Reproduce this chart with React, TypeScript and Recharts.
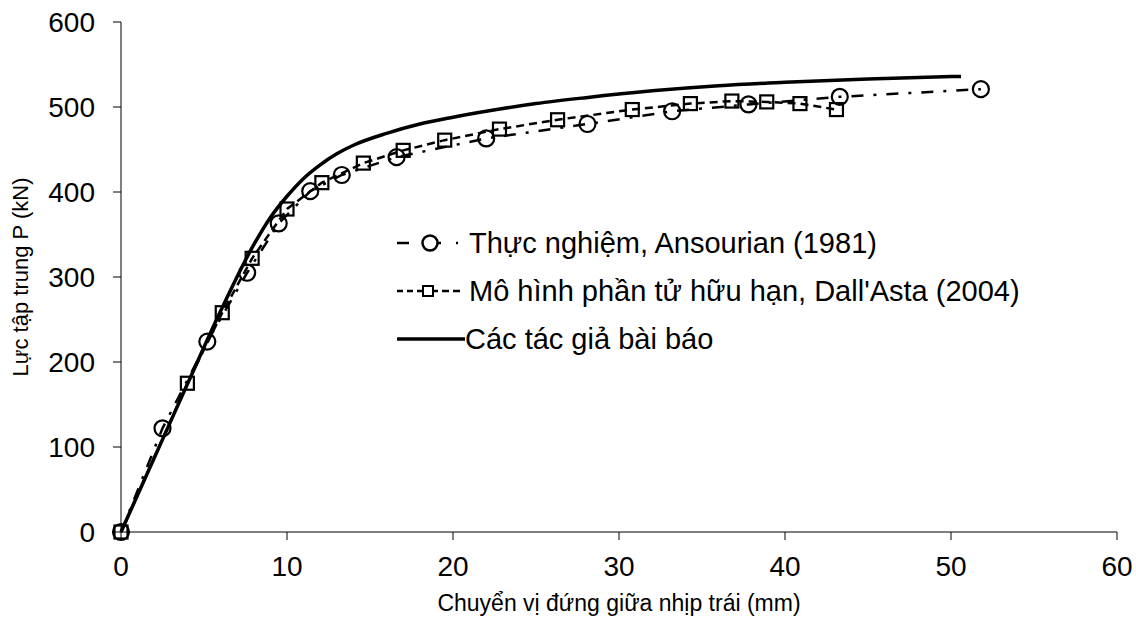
import { LineChart, Line, XAxis, YAxis, Legend } from 'recharts'

// Thực nghiệm, Ansourian (1981)
const expX = [0, 2.5, 5.2, 7.6, 9.5, 11.4, 13.3, 16.6, 22.0, 28.1, 33.2, 37.8, 43.3, 51.8]
const expY = [0, 122, 224, 305, 363, 401, 420, 441, 463, 480, 495, 503, 512, 521]

// Mô hình phần tử hữu hạn, Dall'Asta (2004)
const femX = [0, 4.0, 6.1, 7.9, 10.0, 12.1, 14.6, 17.0, 19.5, 22.8, 26.3, 30.8, 34.3, 36.8, 38.9, 40.9, 43.1]
const femY = [0, 175, 258, 322, 380, 411, 434, 449, 461, 474, 485, 497, 504, 507, 506, 504, 497]

// Các tác giả bài báo
const paperX = [0, 2, 4, 6, 8, 9, 10, 11, 12, 13, 14, 16, 18, 20, 22, 25, 28, 32, 36, 40, 45, 50.6]
const paperY = [0, 87, 174, 260, 338, 370, 395, 416, 432, 445, 455, 469, 480, 488, 495, 504, 511, 519, 525, 529, 533, 536]

const xTicks = [0, 10, 20, 30, 40, 50, 60]
const yTicks = [0, 100, 200, 300, 400, 500, 600]

const seriesNames = [
  'Thực nghiệm, Ansourian (1981)',
  "Mô hình phần tử hữu hạn, Dall'Asta (2004)",
  'Các tác giả bài báo',
]

const font = '"Liberation Sans", Arial, sans-serif'

const toPoints = (xs: number[], ys: number[]) => xs.map((x, i) => ({ x, y: ys[i] }))

const CircleDot = (props: any) => {
  const { cx, cy, index } = props
  if (cx == null || cy == null) return null
  return <circle key={`c${index}`} cx={cx} cy={cy} r={8} fill="none" stroke="#000" strokeWidth={2.2} />
}

const SquareDot = (props: any) => {
  const { cx, cy, index } = props
  if (cx == null || cy == null) return null
  return <rect key={`s${index}`} x={cx - 6.5} y={cy - 6.5} width={13} height={13} fill="none" stroke="#000" strokeWidth={2.2} />
}

const LegendBox = () => (
  <div style={{ fontFamily: font, fontSize: 29, color: '#000', lineHeight: 1 }}>
    {seriesNames.map((name, i) => (
      <div key={name} style={{ display: 'flex', alignItems: 'center', height: 48 }}>
        <svg width={70} height={24} style={{ flex: 'none' }}>
          {i === 0 && (
            <g stroke="#000" strokeWidth={2.5} fill="none">
              <line x1={2} y1={12} x2={14} y2={12} />
              <circle cx={35} cy={12} r={7.5} />
              <line x1={42} y1={12} x2={46} y2={12} />
              <line x1={61} y1={12} x2={63} y2={12} />
            </g>
          )}
          {i === 1 && (
            <g stroke="#000" strokeWidth={2.5} fill="none">
              <line x1={2} y1={12} x2={8} y2={12} />
              <line x1={12} y1={12} x2={18} y2={12} />
              <line x1={22} y1={12} x2={28} y2={12} />
              <rect x={28} y={7} width={10} height={10} strokeWidth={2} />
              <line x1={38} y1={12} x2={43} y2={12} />
              <line x1={47} y1={12} x2={54} y2={12} />
              <line x1={58} y1={12} x2={65} y2={12} />
            </g>
          )}
          {i === 2 && <line x1={2} y1={12} x2={70} y2={12} stroke="#000" strokeWidth={3.5} />}
        </svg>
        <span style={{ whiteSpace: 'nowrap', marginLeft: i === 2 ? 0 : 4 }}>{name}</span>
      </div>
    ))}
  </div>
)

export default function App() {
  const tickStyle = { fontSize: 28, fill: '#000', fontFamily: font }
  return (
    <div style={{ position: 'absolute', left: 0, top: 0, background: '#fff' }}>
      <style>{'body{margin:0;background:#fff}'}</style>
      <LineChart width={1136} height={617} margin={{ top: 22, right: 19, bottom: 0, left: 0 }}>
        <XAxis
          type="number"
          dataKey="x"
          domain={[0, 60]}
          ticks={xTicks}
          allowDuplicatedCategory={false}
          height={85}
          tick={tickStyle}
          tickSize={8}
          tickMargin={16}
          stroke="#000"
          strokeWidth={1}
          label={{
            value: 'Chuyển vị đứng giữa nhịp trái (mm)',
            position: 'insideBottom',
            offset: 6,
            style: { fontSize: 23, fill: '#000', fontFamily: font },
          }}
        />
        <YAxis
          type="number"
          dataKey="y"
          domain={[0, 600]}
          ticks={yTicks}
          width={121}
          tick={tickStyle}
          tickSize={8}
          tickMargin={18}
          stroke="#000"
          strokeWidth={1}
          label={{
            value: 'Lực tập trung P (kN)',
            angle: -90,
            position: 'insideLeft',
            offset: 20,
            style: { fontSize: 22, fill: '#000', fontFamily: font, textAnchor: 'middle' },
          }}
        />
        <Legend
          layout="vertical"
          align="center"
          verticalAlign="middle"
          content={<LegendBox />}
          wrapperStyle={{ left: 395, top: 219, width: 'auto' }}
        />
        <Line
          name={seriesNames[2]}
          data={toPoints(paperX, paperY)}
          dataKey="y"
          type="monotone"
          stroke="#000"
          strokeWidth={3.5}
          dot={false}
          isAnimationActive={false}
        />
        <Line
          name={seriesNames[1]}
          data={toPoints(femX, femY)}
          dataKey="y"
          type="linear"
          stroke="#000"
          strokeWidth={2.5}
          strokeDasharray="8 5"
          dot={SquareDot}
          isAnimationActive={false}
        />
        <Line
          name={seriesNames[0]}
          data={toPoints(expX, expY)}
          dataKey="y"
          type="linear"
          stroke="#000"
          strokeWidth={2.5}
          strokeDasharray="12 10 3 10"
          dot={CircleDot}
          isAnimationActive={false}
        />
      </LineChart>
    </div>
  )
}
